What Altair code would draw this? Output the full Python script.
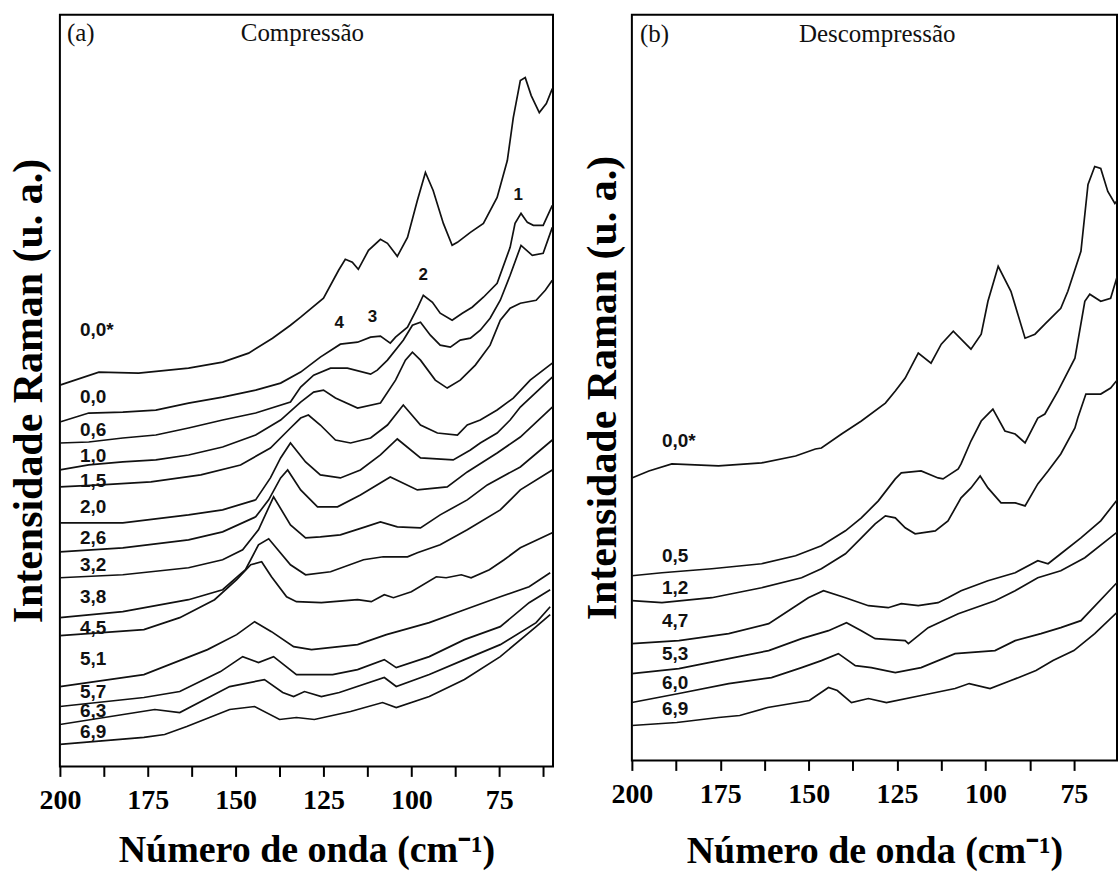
import altair as alt
import pandas as pd

# ---------------- Panel (a): Compressão ----------------
a_names = ["0,0*", "0,0", "0,6", "1,0", "1,5", "2,0", "2,6", "3,2", "3,8", "4,5", "5,1", "5,7", "6,3", "6,9"]
a_label_wn = 194.3
a_label_int = [437, 370, 337, 311, 286, 260, 229, 202, 170, 139, 108, 75, 55, 34]

a_00s_wn = [200, 188.9, 177.6, 163.4, 153.7, 146.3, 139.5, 134.4, 131.5, 125.0, 120.7, 118.8, 116.8, 115.1, 112.2, 108.8, 106.8, 104.0, 101.1, 98.3, 96.0, 93.8, 90.9, 88.4, 86.9, 83.2, 79.5, 75.6, 72.7, 71.0, 69.0, 67.6, 65.9, 63.6, 61.6, 59.9]
a_00s_int = [382, 395, 394, 399, 405, 414, 429, 442, 450, 469, 497, 508, 505, 498, 517, 528, 524, 511, 530, 567, 595, 577, 544, 522, 525, 535, 544, 570, 607, 650, 687, 690, 672, 655, 664, 679]

a_00_wn = [200, 191.8, 182.1, 172.7, 163.4, 153.7, 144.3, 137.2, 131.5, 125.9, 120.2, 115.3, 111.6, 108.8, 106.0, 104.5, 101.1, 98.3, 96.6, 94.0, 91.8, 88.4, 85.5, 82.7, 79.5, 75.6, 71.9, 70.5, 68.8, 67.0, 65.3, 62.5, 59.9]
a_00_int = [345, 354, 355, 357, 364, 370, 377, 384, 395, 410, 423, 425, 430, 431, 424, 430, 440, 459, 472, 465, 454, 447, 454, 460, 470, 484, 520, 544, 554, 545, 542, 542, 562]

a_06_wn = [200, 191.8, 182.1, 172.7, 163.4, 153.7, 144.3, 134.4, 131.5, 127.8, 123.0, 118.2, 111.6, 109.7, 106.8, 102.3, 99.7, 97.4, 94.6, 91.8, 88.9, 86.1, 83.2, 80.4, 77.6, 74.7, 71.9, 68.8, 65.6, 62.5, 59.9]
a_06_int = [324, 325, 329, 332, 339, 347, 354, 365, 380, 392, 399, 399, 393, 397, 407, 427, 442, 445, 432, 422, 420, 427, 429, 437, 449, 467, 492, 522, 512, 514, 540]

a_10_wn = [200, 191.8, 182.1, 172.7, 163.4, 153.7, 144.3, 137.2, 131.5, 127.8, 125.0, 121.6, 115.3, 108.8, 104.5, 101.7, 99.7, 97.4, 93.2, 89.8, 86.1, 81.8, 77.6, 74.7, 71.9, 69.0, 64.5, 61.9, 59.9]
a_10_int = [297, 302, 305, 307, 312, 320, 332, 347, 365, 375, 377, 369, 359, 364, 387, 407, 415, 407, 387, 379, 387, 402, 422, 447, 459, 464, 467, 477, 487]

a_15_wn = [200, 188.4, 174.1, 159.9, 148.6, 140.1, 134.4, 131.5, 129.3, 125.9, 121.6, 117.3, 111.6, 106.8, 102.3, 97.4, 92.6, 86.9, 84.1, 80.4, 75.6, 71.0, 66.2, 59.9]
a_15_int = [280, 282, 285, 292, 302, 319, 339, 349, 352, 342, 327, 324, 329, 342, 362, 342, 334, 332, 342, 347, 357, 369, 387, 404]

a_20_wn = [200, 182.1, 163.4, 153.7, 144.3, 140.1, 137.2, 134.4, 130.1, 125.9, 120.2, 114.5, 108.8, 104.0, 97.4, 88.1, 83.2, 80.4, 75.6, 71.9, 69.0, 59.9]
a_20_int = [244, 244, 252, 257, 267, 289, 309, 324, 305, 292, 289, 297, 312, 328, 309, 307, 317, 324, 334, 347, 360, 390]

a_26_wn = [200, 182.1, 163.4, 153.7, 144.3, 140.6, 137.2, 135.2, 131.5, 126.7, 121.0, 114.5, 106.0, 98.3, 89.8, 84.1, 75.6, 69.0, 59.9]
a_26_int = [215, 219, 227, 235, 250, 267, 289, 297, 277, 260, 260, 272, 290, 277, 280, 295, 314, 330, 360]

a_32_wn = [200, 182.1, 163.4, 153.7, 148.0, 143.5, 139.2, 134.4, 130.1, 125.9, 120.2, 113.1, 108.8, 104.0, 97.4, 91.8, 84.1, 78.4, 69.0, 59.9]
a_32_int = [189, 192, 199, 207, 217, 237, 270, 242, 229, 230, 232, 240, 245, 240, 239, 252, 267, 282, 300, 327]

a_38_wn = [200, 182.1, 163.4, 153.7, 147.2, 143.5, 140.6, 134.4, 130.1, 123.0, 113.6, 108.0, 101.1, 98.3, 91.8, 84.1, 74.7, 69.0, 59.9]
a_38_int = [149, 155, 167, 177, 197, 222, 228, 202, 192, 195, 207, 210, 210, 214, 222, 237, 257, 277, 297]

a_45_wn = [200, 176.1, 165.9, 156.0, 149.7, 145.7, 142.6, 139.8, 135.5, 132.7, 125.6, 115.3, 111.4, 107.7, 105.1, 100.0, 92.9, 90.1, 85.8, 83.0, 77.8, 73.6, 69.0, 59.9]
a_45_int = [131, 137, 149, 167, 187, 202, 205, 190, 170, 165, 164, 167, 165, 172, 169, 175, 190, 189, 192, 189, 197, 207, 219, 234]

a_51_wn = [200, 176.1, 158.0, 149.7, 144.6, 139.8, 133.5, 128.4, 115.3, 107.1, 94.9, 84.9, 74.7, 66.5, 60.5]
a_51_int = [80, 92, 117, 132, 145, 135, 120, 117, 122, 132, 144, 157, 170, 180, 194]

a_57_wn = [200, 176.1, 165.9, 154.3, 148.0, 143.5, 139.2, 132.7, 122.4, 115.3, 107.7, 104.3, 94.9, 84.9, 74.7, 66.5, 60.5]
a_57_int = [60, 69, 75, 95, 110, 104, 110, 92, 92, 97, 107, 99, 110, 127, 140, 164, 177]

a_63_wn = [200, 173.0, 165.9, 151.7, 141.8, 136.6, 133.5, 130.4, 125.6, 120.5, 107.7, 104.3, 94.9, 84.9, 74.7, 64.5, 60.5]
a_63_int = [42, 57, 54, 80, 87, 74, 70, 75, 70, 74, 89, 80, 92, 107, 122, 144, 160]

a_69_wn = [200, 176.1, 170.2, 163.9, 151.7, 144.6, 137.5, 132.7, 127.6, 117.3, 108.2, 104.3, 94.9, 84.9, 74.7, 64.5, 60.5]
a_69_int = [22, 29, 32, 40, 57, 60, 47, 49, 47, 55, 64, 59, 70, 87, 110, 140, 152]

a_curves = [(a_00s_wn, a_00s_int), (a_00_wn, a_00_int), (a_06_wn, a_06_int), (a_10_wn, a_10_int),
            (a_15_wn, a_15_int), (a_20_wn, a_20_int), (a_26_wn, a_26_int), (a_32_wn, a_32_int),
            (a_38_wn, a_38_int), (a_45_wn, a_45_int), (a_51_wn, a_51_int), (a_57_wn, a_57_int),
            (a_63_wn, a_63_int), (a_69_wn, a_69_int)]

a_peak_names = ["1", "2", "3", "4"]
a_peak_wn = [69.6, 96.6, 111.1, 120.5]
a_peak_int = [572, 492, 450, 444]

# ---------------- Panel (b): Descompressão ----------------
b_names = ["0,0*", "0,5", "1,2", "4,7", "5,3", "6,0", "6,9"]
b_label_wn = 191.5
b_label_int = [320, 205, 173, 140, 107, 78, 52]

b_00s_wn = [200, 195.2, 188.7, 175.5, 163.3, 153.7, 148.1, 146.4, 140.7, 135.1, 128.3, 125.5, 122.7, 119.0, 115.4, 112.5, 109.1, 104.1, 101.2, 99.3, 96.4, 92.8, 88.8, 86.0, 83.2, 78.7, 76.7, 73.0, 71.0, 69.1, 67.4, 65.4, 63.4, 62.3]
b_00s_int = [283, 290, 297, 295, 298, 305, 312, 313, 327, 340, 358, 370, 383, 408, 398, 417, 430, 412, 427, 460, 495, 470, 423, 427, 437, 453, 470, 510, 577, 595, 593, 570, 558, 563]

b_05_wn = [200, 191.5, 177.4, 163.3, 153.7, 146.4, 139.6, 135.1, 130.3, 125.5, 123.8, 118.2, 113.4, 112.0, 107.7, 106.9, 104.1, 101.2, 99.3, 97.9, 94.5, 91.6, 88.8, 85.2, 83.2, 79.5, 74.7, 71.9, 70.5, 67.4, 64.6, 62.3]
b_05_int = [185, 188, 192, 197, 205, 215, 230, 243, 260, 282, 288, 290, 283, 282, 292, 297, 320, 340, 347, 352, 330, 327, 318, 343, 347, 370, 403, 460, 467, 460, 463, 490]

b_12_wn = [200, 191.5, 177.4, 163.3, 152.0, 146.4, 139.6, 135.1, 131.2, 128.3, 125.5, 122.7, 119.9, 114.2, 110.6, 106.9, 104.1, 101.5, 99.3, 95.6, 91.6, 88.8, 85.2, 82.3, 78.7, 74.7, 73.9, 71.6, 67.4, 64.6, 62.3]
b_12_int = [160, 158, 163, 173, 183, 192, 207, 223, 237, 245, 243, 233, 227, 230, 240, 263, 273, 285, 273, 258, 258, 255, 277, 290, 307, 333, 343, 367, 367, 373, 383]

b_47_wn = [200, 186.7, 172.6, 161.3, 155.7, 150.1, 145.8, 139.6, 133.1, 127.5, 123.8, 119.0, 113.4, 110.6, 106.9, 99.3, 91.6, 85.2, 82.3, 78.7, 73.0, 67.4, 62.3]
b_47_int = [117, 120, 127, 137, 150, 163, 170, 163, 155, 153, 157, 155, 158, 163, 170, 180, 188, 200, 197, 207, 223, 240, 263]

b_53_wn = [200, 186.7, 172.6, 161.3, 152.0, 144.4, 139.3, 135.1, 131.2, 122.7, 121.8, 116.2, 107.7, 97.3, 91.6, 85.2, 78.7, 71.9, 62.3]
b_53_int = [87, 92, 102, 110, 122, 130, 138, 130, 122, 120, 117, 133, 147, 160, 170, 183, 190, 203, 230]

b_60_wn = [200, 186.7, 172.6, 160.5, 152.0, 146.4, 141.6, 136.8, 132.3, 125.5, 118.2, 108.6, 97.3, 91.6, 84.3, 78.7, 73.0, 62.3]
b_60_int = [58, 67, 77, 83, 93, 100, 107, 95, 93, 88, 93, 107, 110, 120, 127, 133, 140, 180]

b_69_wn = [200, 187.3, 175.5, 169.5, 161.6, 149.8, 144.4, 141.9, 137.9, 133.1, 128.0, 118.2, 108.6, 104.6, 98.7, 92.8, 85.7, 80.9, 75.0, 69.1, 62.3]
b_69_int = [35, 38, 43, 45, 53, 60, 73, 70, 58, 62, 58, 65, 72, 77, 72, 80, 90, 100, 110, 127, 150]

b_curves = [(b_00s_wn, b_00s_int), (b_05_wn, b_05_int), (b_12_wn, b_12_int), (b_47_wn, b_47_int),
            (b_53_wn, b_53_int), (b_60_wn, b_60_int), (b_69_wn, b_69_int)]

SERIF = "Liberation Serif"
SANS = "Liberation Sans"
INK = "#111111"


def curves_frame(names, curves):
    rows = []
    for name, (wns, ints) in zip(names, curves):
        for i, (w, v) in enumerate(zip(wns, ints)):
            rows.append({"curve": name, "idx": i, "wn": w, "I": v})
    return pd.DataFrame(rows)


def panel(names, curves, label_wn, label_int, tag, tag_wn, head, head_wn, head_int,
          xdom, ymax, width, height, xticks, ytitle_pad, xtitle_pad,
          peaks=None):
    x = alt.X("wn:Q",
              scale=alt.Scale(domain=xdom, nice=False, zero=False),
              axis=alt.Axis(values=xticks,
                            labelExpr="datum.value % 25 == 0 ? datum.label : ''",
                            title="Número de onda (cm⁻¹)",
                            titleFont=SERIF, titleFontWeight="bold", titleFontSize=38,
                            titleColor="black", titlePadding=xtitle_pad,
                            labelFont=SERIF, labelFontWeight="bold", labelFontSize=28,
                            labelColor="black", labelPadding=10, labelFlush=False,
                            labelOverlap=False, tickSize=10, tickWidth=2,
                            tickColor="black", domain=False, grid=False))
    y = alt.Y("I:Q",
              scale=alt.Scale(domain=[0, ymax], nice=False, zero=False),
              axis=alt.Axis(title="Intensidade Raman (u. a.)",
                            titleFont=SERIF, titleFontWeight="bold", titleFontSize=42,
                            titleColor="black", titlePadding=ytitle_pad,
                            labels=False, ticks=False, domain=False, grid=False))

    df = curves_frame(names, curves)
    lines = alt.Chart(df).mark_line(color=INK, strokeWidth=1.7, clip=True).encode(
        x=x, y=y, detail="curve:N", order="idx:Q")

    lab_df = pd.DataFrame({"t": names, "wn": [label_wn] * len(names), "I": label_int})
    labels = alt.Chart(lab_df).mark_text(
        align="left", baseline="middle", font=SANS, fontWeight="bold",
        fontSize=19, color=INK).encode(x=x, y=y, text="t:N")

    tag_df = pd.DataFrame({"t": [tag], "wn": [tag_wn], "I": [head_int]})
    tag_layer = alt.Chart(tag_df).mark_text(
        align="left", baseline="alphabetic", font=SERIF, fontSize=25,
        color=INK).encode(x=x, y=y, text="t:N")

    head_df = pd.DataFrame({"t": [head], "wn": [head_wn], "I": [head_int]})
    head_layer = alt.Chart(head_df).mark_text(
        align="center", baseline="alphabetic", font=SERIF, fontSize=25,
        color=INK).encode(x=x, y=y, text="t:N")

    layers = [lines, labels, tag_layer, head_layer]
    if peaks is not None:
        pk_df = pd.DataFrame({"t": peaks[0], "wn": peaks[1], "I": peaks[2]})
        layers.append(alt.Chart(pk_df).mark_text(
            align="center", baseline="middle", font=SANS, fontWeight="bold",
            fontSize=17, color=INK).encode(x=x, y=y, text="t:N"))
    return alt.layer(*layers).properties(width=width, height=height)


ticks_a = [200, 187.5, 175, 162.5, 150, 137.5, 125, 112.5, 100, 87.5, 75, 62.5]
ticks_b = [200, 187.5, 175, 162.5, 150, 137.5, 125, 112.5, 100, 87.5, 75]

pa = panel(a_names, a_curves, a_label_wn, a_label_int, "(a)", 198.0, "Compressão", 131.0, 727,
           [200, 59.7], 753, 494, 753, ticks_a, 9, 17,
           peaks=(a_peak_names, a_peak_wn, a_peak_int))
pb = panel(b_names, b_curves, b_label_wn, b_label_int, "(b)", 197.7, "Descompressão", 130.6, 720,
           [200, 62.8], 747, 486, 747, ticks_b, 7, 24)

chart = alt.hconcat(pa, pb, spacing=27).configure(
    padding={"left": 7, "top": 13, "right": 0, "bottom": 0},
    background="white",
).configure_view(stroke="black", strokeWidth=2)

chart.save("out.html", embed_options={"renderer": "svg", "actions": False})
